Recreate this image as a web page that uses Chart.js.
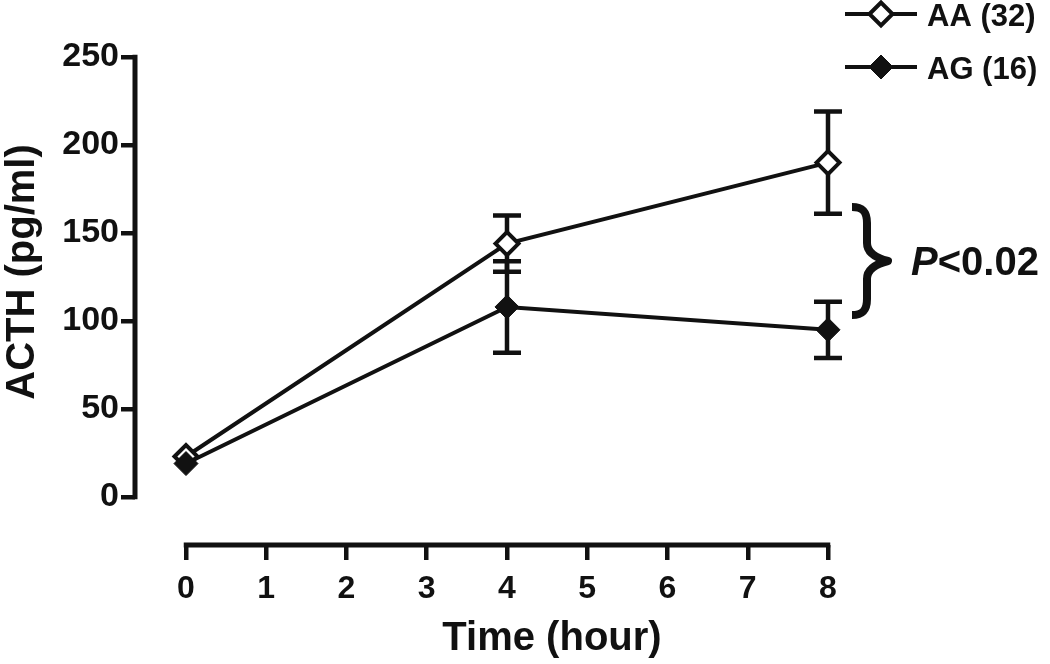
<!DOCTYPE html>
<html><head><meta charset="utf-8">
<script src="https://cdn.jsdelivr.net/npm/chart.js@4.4.1/dist/chart.umd.min.js"></script>
<style>html,body{margin:0;padding:0;background:#fff;} #wrap{width:1050px;height:664px;position:relative;}</style>
</head><body><div id="wrap"><canvas id="c"></canvas></div>
<script>
// ---- data ----
const timeHours = [0, 4, 8];
const aaMean = [23, 144, 190];
const aaSem = [0, 16, 29];
const agMean = [19, 108, 95];
const agSem = [0, 26, 16];
const seriesLabels = ['AA (32)', 'AG (16)'];
const xTickValues = [0, 1, 2, 3, 4, 5, 6, 7, 8];
const yTickValues = [0, 50, 100, 150, 200, 250];
const xTitleText = 'Time (hour)';
const yTitleText = 'ACTH (pg/ml)';
const pItalic = 'P';
const pRest = '<0.02';

const FONT = '"Liberation Sans", Arial, Helvetica, sans-serif';
const INK = '#111';

const errorBars = [
  {mean: aaMean, err: aaSem},
  {mean: agMean, err: agSem}
];

const extras = {
  id: 'extras',
  beforeDatasetsDraw(chart) {
    const ctx = chart.ctx, xs = chart.scales.x, ys = chart.scales.y;
    ctx.save();
    ctx.strokeStyle = INK; ctx.lineWidth = 4.5; ctx.lineCap = 'butt';
    errorBars.forEach(s => {
      timeHours.forEach((t, i) => {
        if (!s.err[i]) return;
        const px = xs.getPixelForValue(t);
        const top = ys.getPixelForValue(s.mean[i] + s.err[i]);
        const bot = ys.getPixelForValue(s.mean[i] - s.err[i]);
        ctx.beginPath();
        ctx.moveTo(px, top); ctx.lineTo(px, bot);
        ctx.moveTo(px - 14, top); ctx.lineTo(px + 14, top);
        ctx.moveTo(px - 14, bot); ctx.lineTo(px + 14, bot);
        ctx.stroke();
      });
    });
    ctx.restore();
  },
  afterDraw(chart) {
    const ctx = chart.ctx, xs = chart.scales.x, ys = chart.scales.y, ca = chart.chartArea;
    ctx.save();
    ctx.strokeStyle = INK; ctx.fillStyle = INK; ctx.lineCap = 'butt';
    // detached axis lines
    ctx.lineWidth = 5;
    ctx.beginPath();
    const x0 = xs.getPixelForValue(xTickValues[0]), x1 = xs.getPixelForValue(xTickValues[xTickValues.length - 1]);
    ctx.moveTo(x0 - 2.25, ca.bottom); ctx.lineTo(x1 + 2.25, ca.bottom);
    const y0 = ys.getPixelForValue(yTickValues[0]), y1 = ys.getPixelForValue(yTickValues[yTickValues.length - 1]);
    ctx.moveTo(ca.left, y0 + 2.25); ctx.lineTo(ca.left, y1 - 2.25);
    ctx.stroke();

    // y-axis title
    ctx.save();
    ctx.translate(34, 272);
    ctx.rotate(-Math.PI / 2);
    ctx.font = 'bold 40px ' + FONT;
    ctx.textAlign = 'center'; ctx.textBaseline = 'alphabetic';
    ctx.fillText(yTitleText, 0, 0);
    ctx.restore();

    // legend
    const ds = chart.data.datasets;
    const rows = [14, 67];
    ds.forEach((d, i) => {
      const y = rows[i];
      ctx.lineWidth = 4; ctx.strokeStyle = INK;
      ctx.beginPath(); ctx.moveTo(845, y); ctx.lineTo(917, y); ctx.stroke();
      ctx.fillStyle = d.pointBackgroundColor; ctx.strokeStyle = INK; ctx.lineWidth = d.pointBorderWidth;
      ctx.beginPath();
      const r = d.pointRadius;
      ctx.moveTo(881 - r, y); ctx.lineTo(881, y - r); ctx.lineTo(881 + r, y); ctx.lineTo(881, y + r); ctx.closePath();
      ctx.fill(); ctx.stroke();
      ctx.fillStyle = INK;
      ctx.font = 'bold 31px ' + FONT;
      ctx.textAlign = 'left'; ctx.textBaseline = 'middle';
      ctx.fillText(d.label, 927, y + 3);
    });

    // brace
    ctx.lineWidth = 8; ctx.strokeStyle = INK; ctx.lineCap = 'butt'; ctx.lineJoin = 'round';
    const bx = 867, tipx = 888, ytop = 207, ybot = 315, ymid = 261;
    ctx.beginPath();
    ctx.moveTo(852, ytop);
    ctx.bezierCurveTo(862, ytop, bx, ytop + 4, bx, ytop + 16);
    ctx.lineTo(bx, ymid - 18);
    ctx.bezierCurveTo(bx, ymid - 6, tipx - 8, ymid - 2, tipx, ymid);
    ctx.bezierCurveTo(tipx - 8, ymid + 2, bx, ymid + 6, bx, ymid + 18);
    ctx.lineTo(bx, ybot - 16);
    ctx.bezierCurveTo(bx, ybot - 4, 862, ybot, 852, ybot);
    ctx.stroke();

    // P value
    ctx.fillStyle = INK;
    ctx.textAlign = 'left'; ctx.textBaseline = 'alphabetic';
    ctx.font = 'italic bold 40px ' + FONT;
    ctx.fillText(pItalic, 911, 275);
    const w = ctx.measureText(pItalic).width;
    ctx.font = 'bold 40px ' + FONT;
    ctx.fillText(pRest, 911 + w, 275);
    ctx.restore();
  }
};

new Chart(document.getElementById('c'), {
  type: 'line',
  data: {
    datasets: [
      {
        label: seriesLabels[0],
        data: timeHours.map((t, i) => ({x: t, y: aaMean[i]})),
        borderColor: INK, borderWidth: 4,
        pointStyle: 'rectRot', pointRadius: 11.5, pointBorderWidth: 4,
        pointBackgroundColor: '#fff', pointBorderColor: INK,
        tension: 0, order: 2
      },
      {
        label: seriesLabels[1],
        data: timeHours.map((t, i) => ({x: t, y: agMean[i]})),
        borderColor: INK, borderWidth: 4,
        pointStyle: 'rectRot', pointRadius: 12, pointBorderWidth: 1,
        pointBackgroundColor: INK, pointBorderColor: INK,
        tension: 0, order: 1
      }
    ]
  },
  options: {
    responsive: true, maintainAspectRatio: false, animation: false,
    layout: {padding: {top: 57, right: 81, bottom: 0, left: 0}},
    plugins: {legend: {display: false}, tooltip: {enabled: false}},
    scales: {
      x: {
        type: 'linear', position: 'bottom',
        min: -0.6355, max: 9.757,
        afterBuildTicks: s => { s.ticks = xTickValues.map(v => ({value: v})); },
        afterFit: s => { s.height = 119; },
        border: {display: false},
        grid: {drawOnChartArea: false, drawTicks: true, tickLength: 15, lineWidth: 4.5, color: INK},
        ticks: {padding: 10, color: INK, font: {family: FONT, size: 32, weight: 'bold'}, maxRotation: 0, autoSkip: false},
        title: {display: true, text: xTitleText, color: INK, padding: {top: 0, bottom: 1}, font: {family: FONT, size: 40, weight: 'bold'}}
      },
      y: {
        type: 'linear', position: 'left',
        min: -27.27, max: 250,
        afterBuildTicks: s => { s.ticks = yTickValues.map(v => ({value: v})); },
        afterFit: s => { s.width = 135; },
        border: {display: false},
        grid: {drawOnChartArea: false, drawTicks: true, tickLength: 14, lineWidth: 4.5, color: INK},
        ticks: {padding: 2, color: INK, font: {family: FONT, size: 34, weight: 'bold'}, autoSkip: false}
      }
    }
  },
  plugins: [extras]
});
</script>
</body></html>
